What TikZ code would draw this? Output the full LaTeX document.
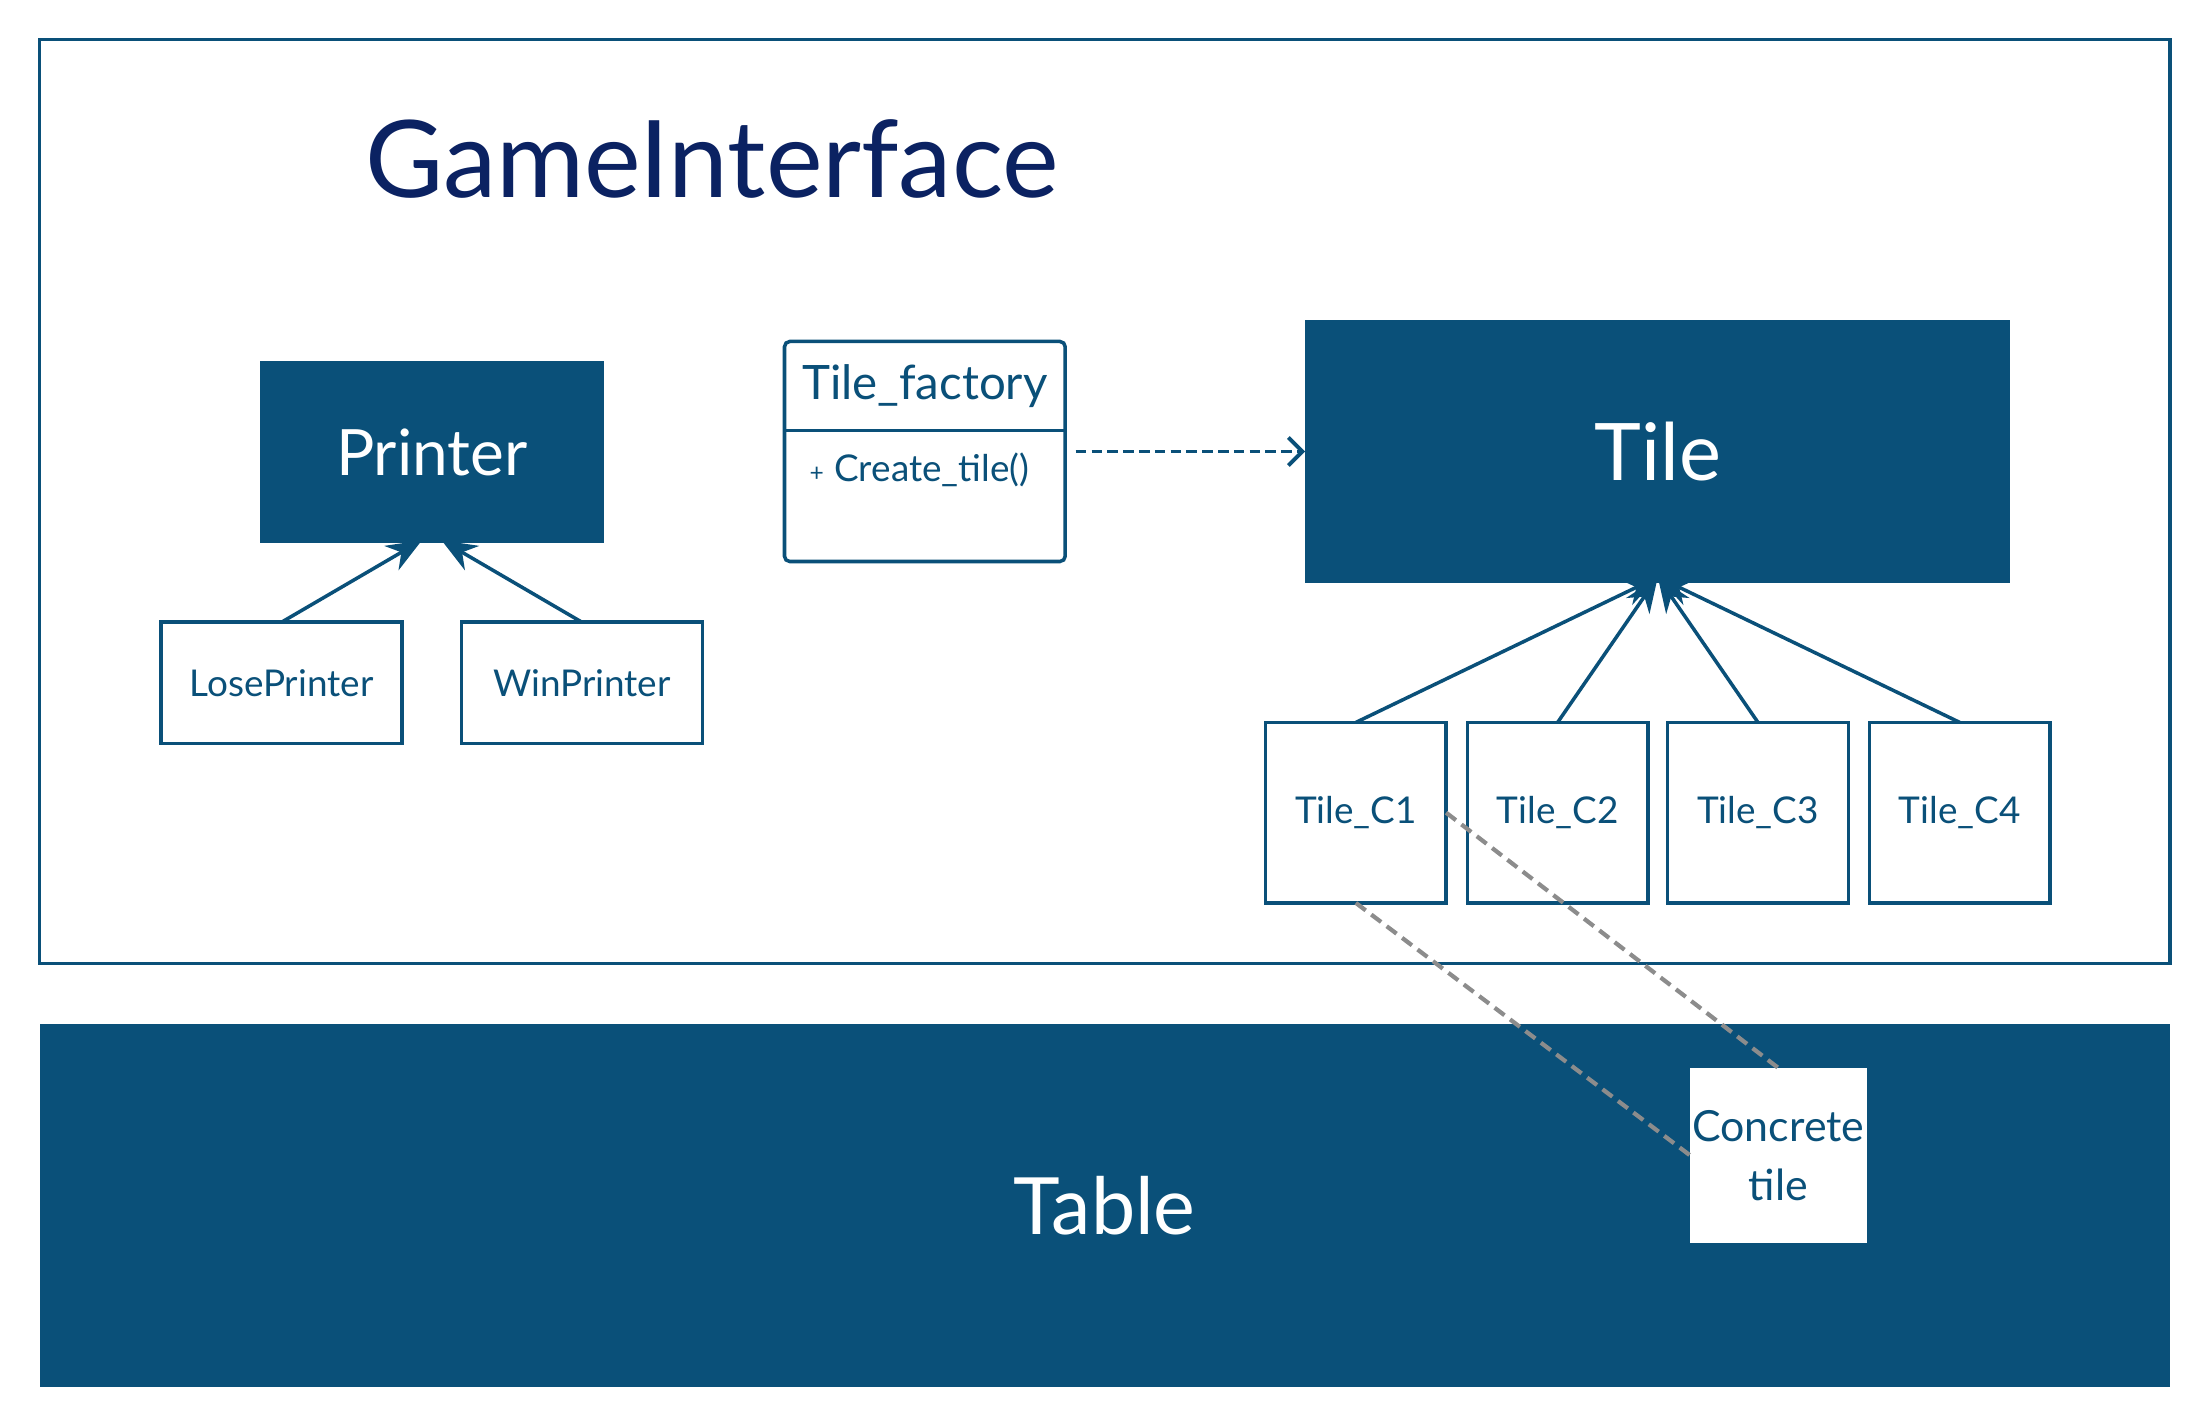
\documentclass[tikz,border=0pt]{standalone}
\usepackage{fontspec}
\setmainfont{Lato}
\usetikzlibrary{positioning,arrows.meta,calc}

\definecolor{boxblue}{HTML}{0A5079}
\definecolor{titleblue}{HTML}{0B2262}
\definecolor{linkgray}{HTML}{8C8C8C}

\tikzset{
  solidbox/.style={fill=boxblue, text=white, inner sep=0pt, outer sep=0pt},
  linebox/.style={draw=boxblue, line width=1pt, fill=white, text=boxblue, inner sep=0pt, outer sep=0pt},
  inherit/.style={draw=boxblue, line width=1pt, -{Stealth[length=10pt,width=8pt]}},
  depend/.style={draw=boxblue, line width=1.1pt, dash pattern=on 3pt off 1.5pt, -{Straight Barb[length=4pt,width=8pt]}},
  link/.style={draw=linkgray, line width=1.2pt, dash pattern=on 3.5pt off 2pt},
}

\begin{document}
\begin{tikzpicture}[x=0.01411cm, y=-0.01411cm]
\useasboundingbox (0,0) rectangle (1560,1007.2);

% game interface frame
\node [linebox, minimum width=21.31cm, minimum height=9.242cm](game) at (783,355.5) {};
\node [anchor=base west, text=titleblue, font=\fontsize{30.5}{30.5}\selectfont](gametitle) at (250,140) {GameInterface};

% printers
\node [solidbox, minimum width=3.443cm, minimum height=1.820cm, font=\fontsize{18.2}{18.2}\selectfont](printer) at (306,320.5) {Printer};
\node [linebox, minimum width=2.413cm, minimum height=1.213cm, font=\fontsize{10.5}{10.5}\selectfont](lose) at (199.5,484) {LosePrinter};
\node [linebox, minimum width=2.413cm, minimum height=1.213cm, font=\fontsize{10.5}{10.5}\selectfont](win) at (412.5,484) {WinPrinter};
\draw [inherit] (lose.north) -- ($(printer.south)+(-7,-2)$);
\draw [inherit] (win.north) -- ($(printer.south)+(7,-2)$);

% factory
\node [linebox, rounded corners=1.5pt, minimum width=2.808cm, minimum height=2.201cm](factory) at (655.5,320) {};
\node [text=boxblue, font=\fontsize{13.5}{13.5}\selectfont](factoryname) at (655.5,274) {Tile\_factory};
\coordinate (sep) at (655.5,305);
\draw [boxblue, line width=1pt] (factory.west |- sep) -- (factory.east |- sep);
\node [anchor=west, text=boxblue, font=\fontsize{10.5}{10.5}\selectfont](create) at (565,333) {{\fontsize{7}{7}\selectfont +}\kern3pt Create\_tile()};

% tiles
\node [solidbox, minimum width=7.055cm, minimum height=2.624cm, font=\fontsize{22.6}{22.6}\selectfont](tile) at (1175,320) {Tile};
\draw [depend] ([xshift=3pt]factory.east) -- (tile.west);
\foreach \i/\x in {1/961,2/1104,3/1246,4/1389}{
  \node [linebox, minimum size=1.806cm, font=\fontsize{10.5}{10.5}\selectfont](c\i) at (\x,576) {Tile\_C\i};
  \draw [inherit] (c\i.north) -- ($(tile.south)+(0,-4)$);
}

% table
\node [solidbox, minimum width=21.31cm, minimum height=3.626cm, font=\fontsize{22.5}{22.5}\selectfont](table) at (783,854.5) {Table};
\node [solidbox, fill=white, text=boxblue, align=center, minimum width=1.764cm, minimum height=1.750cm, font=\fontsize{12.2}{17}\selectfont](concrete) at (1260.5,819) {Concrete\\tile};
\draw [link] (c1.south) -- (concrete.west);
\draw [link] (c1.east) -- (concrete.north);
\end{tikzpicture}
\end{document}
